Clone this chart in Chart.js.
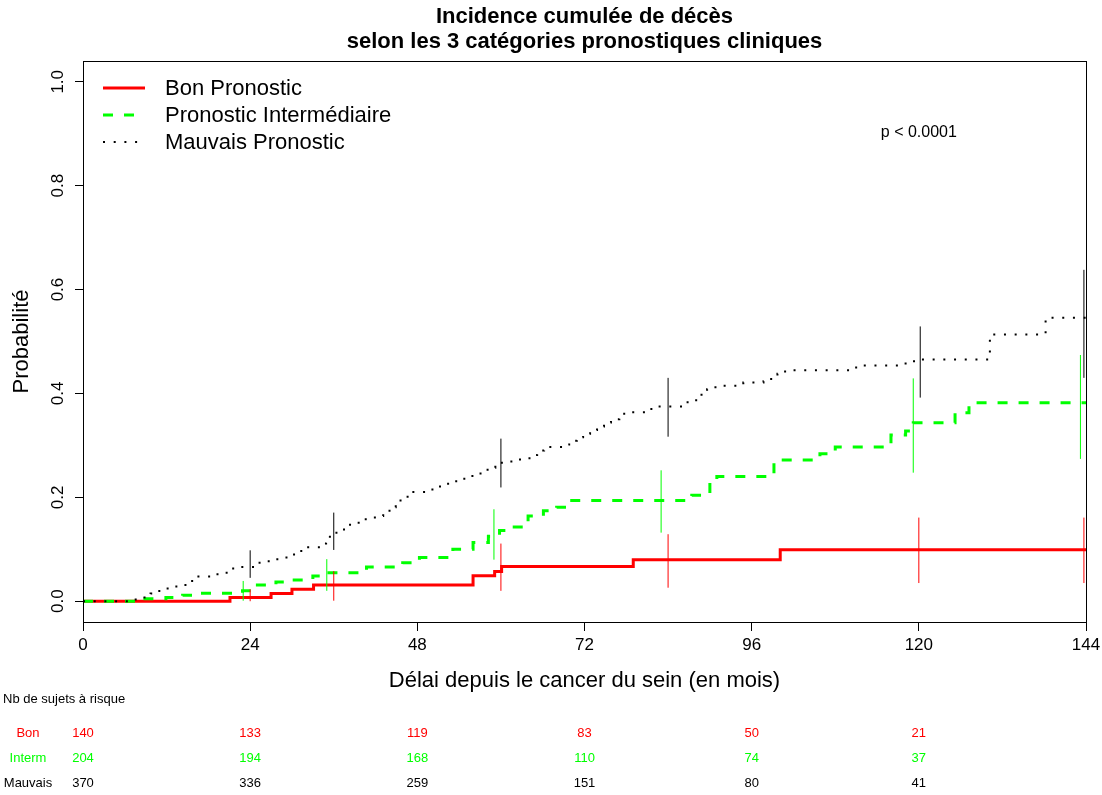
<!DOCTYPE html>
<html>
<head>
<meta charset="utf-8">
<script src="https://cdn.jsdelivr.net/npm/chart.js@4.4.1/dist/chart.umd.min.js"></script>
<style>
  body { margin: 0; background: #fff; }
  canvas { display: block; }
</style>
</head>
<body>
<canvas id="chart" width="1102" height="795"></canvas>
<script>
// step curves (time in months, cumulative incidence)
const bonTimes = [0, 21.1, 27.0, 30.0, 33.1, 56.0, 59.1, 60.1, 79.0, 100.1, 144];
const bonValues = [0, 0.007, 0.015, 0.023, 0.031, 0.049, 0.057, 0.067, 0.080, 0.099, 0.099];

const intermTimes = [0, 8.5, 11.9, 14.3, 16.9, 22.9, 24.8, 27.7, 30.1, 33.0, 34.9, 40.7, 45.9, 48.3, 53.1, 56.0, 58.2, 59.8, 60.8,
    63.9, 66.1, 68.0, 69.9, 87.4, 90.0, 91.0, 99.2, 105.8, 108.0, 116.0, 118.1, 119.2, 125.2, 127.2, 144];
const intermValues = [0, 0.005, 0.007, 0.0115, 0.0154, 0.020, 0.031, 0.037, 0.041, 0.0487, 0.055, 0.066, 0.074, 0.084, 0.100, 0.113, 0.125, 0.136, 0.143,
    0.164, 0.174, 0.181, 0.194, 0.204, 0.232, 0.240, 0.272, 0.284, 0.297, 0.320, 0.3275, 0.3436, 0.363, 0.382, 0.382];

const mauvaisTimes = [0, 7.3, 8.5, 9.7, 10.8, 12.0, 13.2, 14.4, 15.3, 16.3, 18.9, 20.2, 21.1, 22.5, 25.0, 26.2, 27.5, 28.8, 29.8,
    30.8, 31.7, 34.4, 34.9, 35.9, 36.9, 37.7, 38.8, 39.9, 41.2, 42.5, 43.1, 44.3, 44.9, 45.9, 47.1, 49.6, 50.8, 51.9, 52.9,
    53.9, 55.0, 56.3, 57.3, 58.5, 59.2, 61.5, 64.1, 65.2, 66.2, 68.8, 69.8, 70.9, 71.8, 72.8, 73.8, 74.8, 75.8, 77.0, 77.7,
    81.6, 86.8, 88.8, 89.6, 90.8, 94.8, 97.7, 98.8, 99.7, 100.8, 111.0, 118.1, 119.5, 130.2, 138.2, 144];
const mauvaisValues = [0, 0.0035, 0.0071, 0.0148, 0.0198, 0.0244, 0.0282, 0.0313, 0.039, 0.0475, 0.052, 0.055, 0.063, 0.066, 0.074, 0.077, 0.081, 0.084, 0.090,
    0.0967, 0.104, 0.111, 0.124, 0.132, 0.138, 0.147, 0.151, 0.158, 0.161, 0.164, 0.174, 0.181, 0.194, 0.201, 0.2105, 0.215, 0.221, 0.226, 0.231,
    0.236, 0.241, 0.246, 0.253, 0.257, 0.2667, 0.273, 0.2813, 0.290, 0.297, 0.3015, 0.309, 0.3155, 0.3225, 0.3296, 0.3365, 0.344, 0.3505, 0.355, 0.364,
    0.375, 0.387, 0.4006, 0.4083, 0.4146, 0.421, 0.4237, 0.4314, 0.4379, 0.4448, 0.4538, 0.462, 0.4654, 0.5135, 0.5455, 0.5455];

// confidence interval bars
const ciBonTimes = [24, 36, 60, 84, 120, 143.7];
const ciBonLow = [0.0, 0.001, 0.020, 0.026, 0.035, 0.035];
const ciBonHigh = [0.023, 0.058, 0.111, 0.129, 0.161, 0.161];

const ciIntermTimes = [23, 35, 59, 83, 119.2, 143.2];
const ciIntermLow = [0.001, 0.020, 0.080, 0.132, 0.2475, 0.274];
const ciIntermHigh = [0.039, 0.081, 0.177, 0.252, 0.429, 0.474];

const ciMauvaisTimes = [24, 36, 60, 84, 120.2, 143.7];
const ciMauvaisLow = [0.045, 0.0987, 0.219, 0.3167, 0.392, 0.430];
const ciMauvaisHigh = [0.098, 0.1706, 0.313, 0.430, 0.529, 0.638];

// number at risk
const riskTimes = [0, 24, 48, 72, 96, 120];
const riskBon = [140, 133, 119, 83, 50, 21];
const riskInterm = [204, 194, 168, 110, 74, 37];
const riskMauvais = [370, 336, 259, 151, 80, 41];

const xTicks = [0, 24, 48, 72, 96, 120, 144];
const yTicks = [0.0, 0.2, 0.4, 0.6, 0.8, 1.0];

const RED = '#FF0000', GREEN = '#00FF00', BLACK = '#000000';
const FONT = "'Liberation Sans', Arial, Helvetica, sans-serif";

function steps(times, values) {
    return times.map((t, i) => ({ x: t, y: values[i] }));
}

function bars(times, low, high) {
    let pts = [];
    times.forEach((t, i) => {
        pts.push({ x: t, y: low[i] });
        pts.push({ x: t, y: high[i] });
        pts.push({ x: t, y: null });
    });
    return pts;
}

const series = [
    { label: 'Bon Pronostic', color: RED, width: 3, dash: [] },
    { label: 'Pronostic Intermédiaire', color: GREEN, width: 3, dash: [10, 11] },
    { label: 'Mauvais Pronostic', color: BLACK, width: 2, dash: [2, 8.7] }
];

const overlay = {
    id: 'overlay',
    afterDraw(chart) {
        const ctx = chart.ctx;
        const a = chart.chartArea;
        const xs = chart.scales.x, ys = chart.scales.y;
        ctx.save();

        // box
        ctx.strokeStyle = BLACK;
        ctx.lineWidth = 1;
        ctx.strokeRect(Math.round(a.left) + 0.5, Math.round(a.top) + 0.5, Math.round(a.right - a.left), Math.round(a.bottom - a.top));

        // title
        const cx = (a.left + a.right) / 2;
        ctx.fillStyle = BLACK;
        ctx.textAlign = 'center';
        ctx.textBaseline = 'middle';
        ctx.font = 'bold 22px ' + FONT;
        ctx.fillText('Incidence cumulée de décès', cx, 17);
        ctx.fillText('selon les 3 catégories pronostiques cliniques', cx, 42);

        // y tick labels (rotated, R style)
        ctx.font = '17px ' + FONT;
        yTicks.forEach(v => {
            ctx.save();
            ctx.translate(58, ys.getPixelForValue(v));
            ctx.rotate(-Math.PI / 2);
            ctx.fillText(v.toFixed(1), 0, 0);
            ctx.restore();
        });

        // axis titles
        ctx.font = '22px ' + FONT;
        ctx.fillText('Délai depuis le cancer du sein (en mois)', cx, 681);
        ctx.save();
        ctx.translate(22, (a.top + a.bottom) / 2);
        ctx.rotate(-Math.PI / 2);
        ctx.fillText('Probabilité', 0, 0);
        ctx.restore();

        // p value
        ctx.font = '16px ' + FONT;
        ctx.fillText('p < 0.0001', xs.getPixelForValue(120), 133);

        // legend
        const rows = [88, 115, 142];
        series.forEach((s, i) => {
            ctx.beginPath();
            ctx.strokeStyle = s.color;
            ctx.lineWidth = s.width;
            ctx.setLineDash(s.dash);
            ctx.moveTo(103, rows[i]);
            ctx.lineTo(145, rows[i]);
            ctx.stroke();
        });
        ctx.setLineDash([]);
        ctx.font = '22px ' + FONT;
        ctx.textAlign = 'left';
        ctx.fillStyle = BLACK;
        series.forEach((s, i) => ctx.fillText(s.label, 165, rows[i] + 1));

        // at-risk table
        ctx.font = '13px ' + FONT;
        ctx.fillText('Nb de sujets à risque', 3, 699);
        const tbl = [
            { name: 'Bon', color: RED, vals: riskBon, y: 733 },
            { name: 'Interm', color: GREEN, vals: riskInterm, y: 758 },
            { name: 'Mauvais', color: BLACK, vals: riskMauvais, y: 783 }
        ];
        ctx.textAlign = 'center';
        tbl.forEach(r => {
            ctx.fillStyle = r.color;
            ctx.fillText(r.name, 28, r.y);
            r.vals.forEach((v, i) => ctx.fillText(String(v), xs.getPixelForValue(riskTimes[i]), r.y));
        });
        ctx.restore();
    }
};

const ctx = document.getElementById('chart').getContext('2d');
new Chart(ctx, {
    type: 'line',
    data: {
        datasets: [
            { data: steps(bonTimes, bonValues), borderColor: RED, borderWidth: 3, stepped: true, order: 3 },
            { data: steps(intermTimes, intermValues), borderColor: GREEN, borderWidth: 3, borderDash: [10, 11], stepped: true, order: 2 },
            { data: steps(mauvaisTimes, mauvaisValues), borderColor: BLACK, borderWidth: 2, borderDash: [2, 8.7], stepped: true, order: 1 },
            { data: bars(ciBonTimes, ciBonLow, ciBonHigh), borderColor: RED, borderWidth: 1, order: 0 },
            { data: bars(ciIntermTimes, ciIntermLow, ciIntermHigh), borderColor: GREEN, borderWidth: 1, order: 0 },
            { data: bars(ciMauvaisTimes, ciMauvaisLow, ciMauvaisHigh), borderColor: BLACK, borderWidth: 1, order: 0 }
        ]
    },
    options: {
        responsive: false,
        animation: false,
        events: [],
        layout: { padding: { top: 61, right: 16, left: 0, bottom: 0 } },
        elements: {
            point: { radius: 0 },
            line: { tension: 0, fill: false, borderCapStyle: 'butt', borderJoinStyle: 'miter' }
        },
        plugins: { legend: { display: false }, tooltip: { enabled: false }, title: { display: false } },
        scales: {
            x: {
                type: 'linear', min: 0, max: 144,
                afterBuildTicks: s => { s.ticks = xTicks.map(v => ({ value: v })); },
                afterFit: s => { s.height = 173; s.paddingLeft = 0; s.paddingRight = 0; },
                grid: { drawOnChartArea: false, tickLength: 9, color: BLACK, tickColor: BLACK },
                border: { color: BLACK, width: 1 },
                ticks: { color: BLACK, font: { family: FONT, size: 17 }, padding: 4, maxRotation: 0 }
            },
            y: {
                type: 'linear', min: -0.04, max: 1.04,
                afterBuildTicks: s => { s.ticks = yTicks.map(v => ({ value: v })); },
                afterFit: s => { s.width = 83; s.paddingTop = 0; s.paddingBottom = 0; },
                grid: { drawOnChartArea: false, tickLength: 8, color: BLACK, tickColor: BLACK },
                border: { color: BLACK, width: 1 },
                ticks: { display: false }
            }
        }
    },
    plugins: [overlay]
});
</script>
</body>
</html>
